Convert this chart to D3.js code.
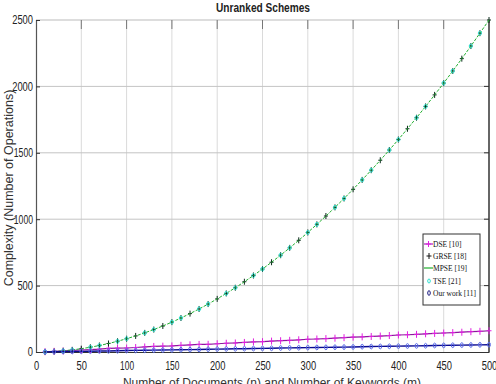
<!DOCTYPE html>
<html>
<head>
<meta charset="utf-8">
<script src="https://cdn.jsdelivr.net/npm/d3@7"></script>
<style>
  body { margin: 0; background: #fff; }
  svg { display: block; }
</style>
</head>
<body>
<div id="chart-area"></div>
<script>
// data, one point every 10 documents
var nValues = [10,20,30,40,50,60,70,80,90,100,110,120,130,140,150,160,170,180,190,200,
	210,220,230,240,250,260,270,280,290,300,310,320,330,340,350,360,370,380,390,400,
	410,420,430,440,450,460,470,480,490,500];

var dseValues = [2,5,8,12,15,18,22,28,29,30,34,38,42,44,46,50,54,57,58,62,
	66,68,72,76,78,82,85,88,92,96,98,101,104,108,112,114,117,120,124,128,
	130,133,137,140,143,146,149,153,156,160];

var grseValues = [1,4,9,16,25,36,49,64,81,100,121,144,169,196,225,256,289,324,361,400,
	441,484,529,576,625,676,729,784,841,900,961,1024,1089,1156,1225,1296,1369,1444,1521,1600,
	1681,1764,1849,1936,2025,2116,2209,2304,2401,2500];

var mpseValues = [1,4,9,16,25,36,49,64,81,100,121,144,169,196,225,256,289,324,361,400,
	441,484,529,576,625,676,729,784,841,900,961,1024,1089,1156,1225,1296,1369,1444,1521,1600,
	1681,1764,1849,1936,2025,2116,2209,2304,2401,2500];

var tseValues = [1,4,9,16,25,36,49,64,81,100,121,144,169,196,225,256,289,324,361,400,
	441,484,529,576,625,676,729,784,841,900,961,1024,1089,1156,1225,1296,1369,1444,1521,1600,
	1681,1764,1849,1936,2025,2116,2209,2304,2401,2500];

var ourValues = [1,2,3,4,5,6,7,8,9,11,12,13,14,15,16,17,18,19,21,22,
	23,24,25,26,27,28,30,31,32,33,34,35,36,37,38,40,41,42,43,44,
	45,46,47,49,50,51,52,53,54,55];

var xTicks = [0,50,100,150,200,250,300,350,400,450,500];
var yTicks = [0,500,1000,1500,2000,2500];
var legendNames = ["DSE [10]", "GRSE [18]", "MPSE [19]", "TSE [21]", "Our work [11]"];

var margin = {top: 20, left: 36, bottom: 32, right: 7};
var width = 496 - margin.left - margin.right;
var height = 384 - margin.top - margin.bottom;

var tickFont = "'Liberation Sans', Arial, sans-serif";

var svg = d3.select("#chart-area")
	.append("svg")
		.attr("width", 496)
		.attr("height", 384);

var g = svg.append("g")
	.attr("transform", "translate(" + margin.left + ", " + margin.top + ")");

var x = d3.scaleLinear()
	.domain([0, 500])
	.range([0, width]);

var y = d3.scaleLinear()
	.domain([0, 2500])
	.range([height, 0]);

	// grid
g.selectAll(".vgrid").data(xTicks.slice(1, -1)).enter()
	.append("line")
		.attr("x1", function(d){ return x(d); })
		.attr("x2", function(d){ return x(d); })
		.attr("y1", 0).attr("y2", height)
		.attr("stroke", "#dadada").attr("stroke-width", 1);
g.selectAll(".hgrid").data(yTicks.slice(1, -1)).enter()
	.append("line")
		.attr("y1", function(d){ return y(d); })
		.attr("y2", function(d){ return y(d); })
		.attr("x1", 0).attr("x2", width)
		.attr("stroke", "#c4c4c4").attr("stroke-width", 1);

	// box
g.append("line").attr("x1", 0).attr("x2", width).attr("y1", 0).attr("y2", 0)
	.attr("stroke", "#bbb");
g.append("line").attr("x1", width).attr("x2", width).attr("y1", 0).attr("y2", height)
	.attr("stroke", "#333").attr("stroke-width", 1.5);

	// narrow digits, like the condensed face of the original
function squeeze(sel) {
	sel.attr("font-family", tickFont).attr("font-size", "12px").attr("fill", "#222")
		.attr("lengthAdjust", "spacingAndGlyphs")
		.attr("textLength", function(){
			return this.textContent.split("").reduce(function(s, c){
				return s + (c == "1" ? 3.6 : 5.2);
			}, 0);
		});
}

	// X axis
var xAxisCall = d3.axisBottom(x)
	.tickValues(xTicks)
	.tickFormat(d3.format("d"))
	.tickSize(0)
	.tickPadding(9);
var xAxis = g.append("g")
	.attr("class", "x axis")
	.attr("transform", "translate(0, " + height + ")")
	.call(xAxisCall);
xAxis.select(".domain").attr("stroke", "#333").attr("stroke-width", 1.2);
xAxis.selectAll("text").call(squeeze);

	// Y axis
var yAxisCall = d3.axisLeft(y)
	.tickValues(yTicks)
	.tickFormat(d3.format("d"))
	.tickSize(-4)
	.tickPadding(3);
var yAxis = g.append("g")
	.attr("class", "y axis")
	.call(yAxisCall);
yAxis.select(".domain").attr("stroke", "#555").attr("stroke-width", 1.2);
yAxis.selectAll(".tick line").attr("stroke", "#333");
yAxis.selectAll("text").call(squeeze);

	// right ticks
g.selectAll(".rtick").data(yTicks.slice(1, -1)).enter()
	.append("line")
		.attr("x1", width - 5).attr("x2", width)
		.attr("y1", function(d){ return y(d); })
		.attr("y2", function(d){ return y(d); })
		.attr("stroke", "#333");
	// top ticks
g.selectAll(".ttick").data(xTicks.slice(1, -1)).enter()
	.append("line")
		.attr("x1", function(d){ return x(d); })
		.attr("x2", function(d){ return x(d); })
		.attr("y1", 0).attr("y2", 9)
		.attr("stroke", "#777");

	// labels
svg.append("text")
	.attr("x", 263).attr("y", 12)
	.attr("text-anchor", "middle")
	.attr("font-family", tickFont)
	.attr("font-size", "12px")
	.attr("font-weight", "bold")
	.attr("lengthAdjust", "spacingAndGlyphs")
	.attr("textLength", 94)
	.attr("fill", "#222")
	.text("Unranked Schemes");

svg.append("text")
	.attr("transform", "translate(13, " + (margin.top + height / 2 + 2) + ") rotate(-90)")
	.attr("text-anchor", "middle")
	.attr("font-family", "'Liberation Sans', Arial, sans-serif")
	.attr("font-size", "12.5px")
	.attr("fill", "#333")
	.text("Complexity (Number of Operations)");

svg.append("text")
	.attr("x", 272).attr("y", 387)
	.attr("text-anchor", "middle")
	.attr("font-family", "'Liberation Sans', Arial, sans-serif")
	.attr("font-size", "12px")
	.attr("fill", "#333")
	.text("Number of Documents (n) and Number of Keywords (m)");

	// series
function pts(vals) {
	return vals.map(function(v, i){ return {n: nValues[i], v: v}; });
}
var line = d3.line()
	.x(function(d){ return x(d.n); })
	.y(function(d){ return y(d.v); });

function plus(sel, data, color, size) {
	sel.selectAll(null).data(data).enter()
		.append("path")
			.attr("d", function(d){
				var cx = x(d.n), cy = y(d.v);
				return "M" + (cx - size) + "," + cy + "H" + (cx + size) +
					"M" + cx + "," + (cy - size - 1) + "V" + (cy + size + 1);
			})
			.attr("stroke", color).attr("stroke-width", 1).attr("fill", "none");
}
function ring(sel, data, color, rx, ry) {
	sel.selectAll(null).data(data).enter()
		.append("ellipse")
			.attr("cx", function(d){ return x(d.n); })
			.attr("cy", function(d){ return y(d.v); })
			.attr("rx", rx).attr("ry", ry)
			.attr("fill", "none").attr("stroke", color).attr("stroke-width", 1);
}

var series = g.append("g");

	// DSE [10]
series.append("path").datum(pts(dseValues))
	.attr("d", line).attr("fill", "none")
	.attr("stroke", "#8a1a9a").attr("stroke-width", 1.2);
plus(series.append("g"), pts(dseValues), "#e020e0", 2.5);

	// GRSE [18]
plus(series.append("g"), pts(grseValues), "#0a2a1a", 2);

	// MPSE [19]
series.append("path").datum(pts(mpseValues))
	.attr("d", line).attr("fill", "none")
	.attr("stroke", "#22b030").attr("stroke-width", 1)
	.attr("stroke-dasharray", "3,1.5");

	// TSE [21]
ring(series.append("g"), pts(tseValues).filter(function(d, i){ return i % 3 != 1; }), "#30e0d0", 1.5, 2);

	// Our work [11]
series.append("path").datum(pts(ourValues))
	.attr("d", line).attr("fill", "none")
	.attr("stroke", "#0a0a90").attr("stroke-width", 1.4);
ring(series.append("g"), pts(ourValues), "#5a6ae8", 1.4, 2.4);

	// legend
var lg = svg.append("g").attr("transform", "translate(423, 234)");
lg.append("rect")
	.attr("width", 57).attr("height", 71)
	.attr("fill", "#fff").attr("stroke", "#333").attr("stroke-width", 1);
var rowY = [10, 22, 34, 47, 59];
var ser = lg.selectAll(".row").data(legendNames).enter()
	.append("g")
		.attr("transform", function(d, i){ return "translate(0, " + rowY[i] + ")"; });
ser.append("text")
	.attr("x", 10).attr("y", 3)
	.attr("font-family", "'Liberation Serif', 'Times New Roman', serif")
	.attr("font-size", "7.5px")
	.attr("fill", "#111")
	.text(function(d){ return d; });
	// samples
var row = ser.nodes();
d3.select(row[0]).append("line").attr("x1", 1).attr("x2", 10).attr("y1", 0).attr("y2", 0)
	.attr("stroke", "#b020c0").attr("stroke-width", 1.2);
d3.select(row[0]).append("path").attr("d", "M3,0H8M5.5,-3V3").attr("stroke", "#e020e0");
d3.select(row[1]).append("path").attr("d", "M3.5,0H8.5M6,-3V3").attr("stroke", "#111");
d3.select(row[2]).append("line").attr("x1", 1).attr("x2", 10).attr("y1", 0).attr("y2", 0)
	.attr("stroke", "#22b030").attr("stroke-width", 1.2);
d3.select(row[3]).append("ellipse").attr("cx", 6).attr("cy", 0).attr("rx", 1.3).attr("ry", 2)
	.attr("fill", "none").attr("stroke", "#30e0d0");
d3.select(row[4]).append("ellipse").attr("cx", 6).attr("cy", 0).attr("rx", 1.3).attr("ry", 2.3)
	.attr("fill", "none").attr("stroke", "#1a1a80");
</script>
</body>
</html>
